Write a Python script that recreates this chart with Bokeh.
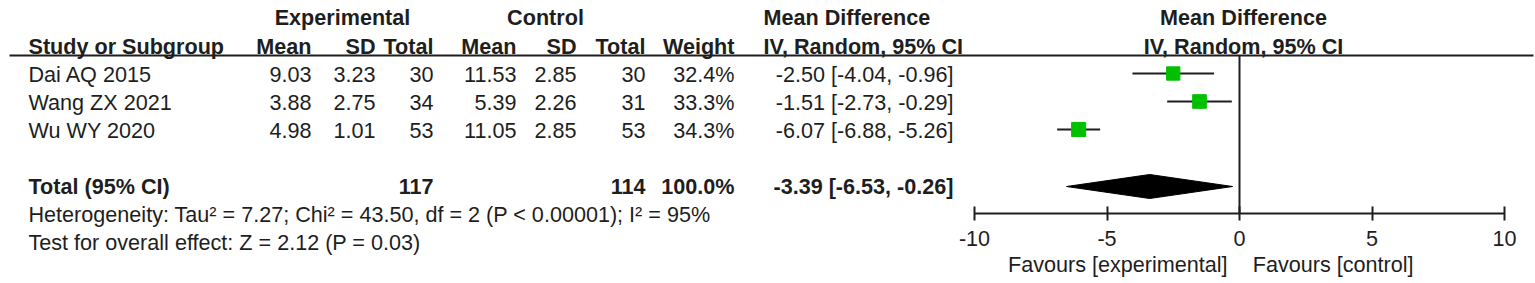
from bokeh.plotting import figure
from bokeh.models import Range1d, LinearAxis, FixedTicker
from bokeh.core.properties import value
from bokeh.embed import file_html
from bokeh.resources import INLINE

# ---------------- data ----------------
studies = ["Dai AQ 2015", "Wang ZX 2021", "Wu WY 2020"]
exp_mean = [9.03, 3.88, 4.98]
exp_sd = [3.23, 2.75, 1.01]
exp_n = [30, 34, 53]
ctl_mean = [11.53, 5.39, 11.05]
ctl_sd = [2.85, 2.26, 2.85]
ctl_n = [30, 31, 53]
weight = [32.4, 33.3, 34.3]
md = [-2.50, -1.51, -6.07]
md_lo = [-4.04, -2.73, -6.88]
md_hi = [-0.96, -0.29, -5.26]

total_label = "Total (95% CI)"
total_exp_n = 117
total_ctl_n = 114
total_weight = 100.0
pooled_md = -3.39
pooled_lo = -6.53
pooled_hi = -0.26

heterogeneity = "Heterogeneity: Tau\u00b2 = 7.27; Chi\u00b2 = 43.50, df = 2 (P < 0.00001); I\u00b2 = 95%"
overall_test = "Test for overall effect: Z = 2.12 (P = 0.03)"
axis_ticks = [-10, -5, 0, 5, 10]
axis_tick_labels = ["-10", "-5", "0", "5", "10"]
favours_left = "Favours [experimental]"
favours_right = "Favours [control]"

# ---------------- layout ----------------
W, H = 1535, 283
FONT = value("Liberation Sans")
FS = "21.6px"
TXT = "#1e1e1e"
GREEN = "#00c000"

px_per_unit = 26.5
zero_px = 1239
md_start = -zero_px / px_per_unit
md_end = md_start + W / px_per_unit

p = figure(width=W, height=H, output_backend="svg", toolbar_location=None,
           x_range=Range1d(0, W), y_range=Range1d(H, 0),
           min_border=0, outline_line_color=None)
p.extra_x_ranges = {"md": Range1d(md_start, md_end)}
p.xaxis.visible = False
p.yaxis.visible = False
p.grid.visible = False
p.background_fill_color = "white"


def txt(x, y, t, align="left", bold=False, rng="default"):
    p.text(x=x, y=y, text=t, text_font=FONT, text_font_size=FS,
           text_align=align, text_baseline="middle", text_color=TXT,
           text_font_style="bold" if bold else "normal", x_range_name=rng)


row_y = [73, 101, 129]
text_row_y = [74, 102, 130]
h1_y, h2_y, line_y = 17, 46, 55
tot_y, het_y, test_y = 186, 214, 242
axis_y = 213

# header row 1
txt([342], [h1_y], ["Experimental"], "center", True)
txt([545], [h1_y], ["Control"], "center", True)
txt([763], [h1_y], ["Mean Difference"], "left", True)
txt([1243], [h1_y], ["Mean Difference"], "center", True)

# header row 2
txt([28], [h2_y], ["Study or Subgroup"], "left", True)
col_x = [311, 375, 433, 516, 576, 645, 734]
col_names = ["Mean", "SD", "Total", "Mean", "SD", "Total", "Weight"]
txt(col_x, [h2_y] * 7, col_names, "right", True)
txt([763], [h2_y], ["IV, Random, 95% CI"], "left", True)
txt([1243], [h2_y], ["IV, Random, 95% CI"], "center", True)

p.segment(x0=[9], y0=[line_y], x1=[1533], y1=[line_y], line_color=TXT, line_width=2)

# study rows
txt([28] * 3, text_row_y, studies, "left")
cols = [
    [f"{v:.2f}" for v in exp_mean],
    [f"{v:.2f}" for v in exp_sd],
    [str(v) for v in exp_n],
    [f"{v:.2f}" for v in ctl_mean],
    [f"{v:.2f}" for v in ctl_sd],
    [str(v) for v in ctl_n],
    [f"{v:.1f}%" for v in weight],
]
for cx, vals in zip(col_x, cols):
    txt([cx] * 3, text_row_y, vals, "right")
ci_txt = [f"{m:.2f} [{l:.2f}, {h:.2f}]" for m, l, h in zip(md, md_lo, md_hi)]
txt([953] * 3, text_row_y, ci_txt, "right")

# total row
txt([28], [tot_y], [total_label], "left", True)
txt([433, 645, 734], [tot_y] * 3,
    [str(total_exp_n), str(total_ctl_n), f"{total_weight:.1f}%"], "right", True)
txt([953], [tot_y], [f"{pooled_md:.2f} [{pooled_lo:.2f}, {pooled_hi:.2f}]"], "right", True)

txt([28], [het_y], [heterogeneity], "left")
txt([28], [test_y], [overall_test], "left")

# forest plot
p.segment(x0=[0], y0=[line_y], x1=[0], y1=[axis_y], line_color=TXT, line_width=2,
          x_range_name="md")
p.segment(x0=md_lo, y0=row_y, x1=md_hi, y1=row_y, line_color=TXT, line_width=2,
          x_range_name="md")
p.scatter(x=md, y=row_y, marker="square", size=[0.41 * w for w in weight],
          fill_color=GREEN, line_color=GREEN, x_range_name="md")
p.patch(x=[pooled_lo, pooled_md, pooled_hi, pooled_md],
        y=[tot_y, tot_y - 12, tot_y, tot_y + 12],
        fill_color="black", line_color="black", x_range_name="md")

ax = LinearAxis(x_range_name="md", fixed_location=axis_y, bounds=(-10, 10),
                ticker=FixedTicker(ticks=axis_ticks))
ax.major_label_overrides = {t: l for t, l in zip(axis_ticks, axis_tick_labels)}
ax.axis_line_width = 2
ax.axis_line_color = TXT
ax.major_tick_line_width = 2
ax.major_tick_line_color = TXT
ax.major_tick_in = 7
ax.major_tick_out = 7
ax.minor_tick_line_color = None
ax.major_label_text_font = "Liberation Sans"
ax.major_label_text_font_size = FS
ax.major_label_text_color = TXT
ax.major_label_standoff = 10
p.add_layout(ax, "below")

txt([-0.45], [264], [favours_left], "right", rng="md")
txt([0.5], [264], [favours_right], "left", rng="md")

open("out.html", "w").write(file_html(p, INLINE))
